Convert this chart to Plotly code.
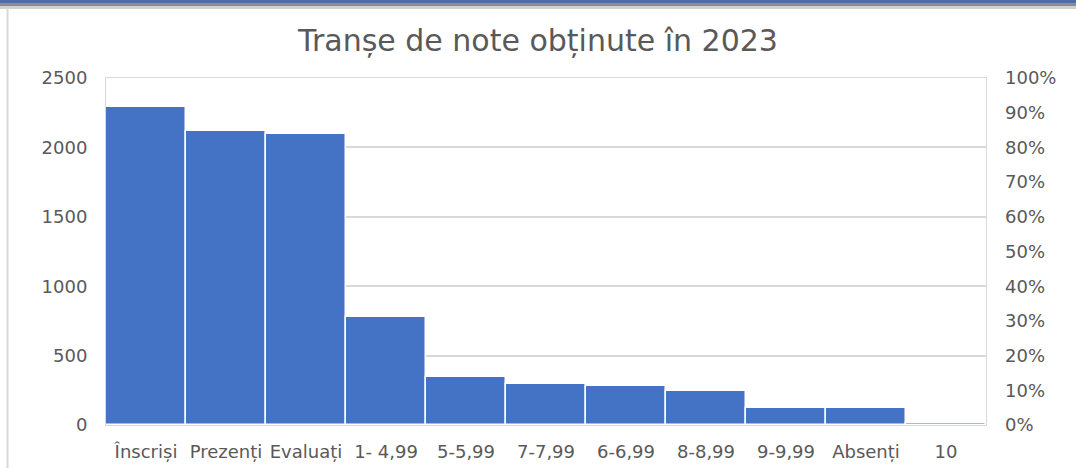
import plotly.graph_objects as go

# data
categorii = ['Înscriși', 'Prezenți', 'Evaluați', '1- 4,99', '5-5,99', '7-7,99',
             '6-6,99', '8-8,99', '9-9,99', 'Absenți', '10']
numar_elevi = [2290, 2116, 2100, 778, 346, 292, 278, 246, 125, 125, 12]

titlu = 'Tranșe de note obținute în 2023'
procente = [0, 0.1, 0.2, 0.3, 0.4, 0.5, 0.6, 0.7, 0.8, 0.9, 1.0]

W, H = 1076, 468
margin = dict(l=106, r=90, t=78, b=43)
plot_h = H - margin['t'] - margin['b']
plot_w = W - margin['l'] - margin['r']

font_name = 'DejaVu Sans'
gray_text = '#595959'
grid_col = '#d9d9d9'

fig = go.Figure()

fig.add_trace(go.Bar(x=categorii, y=numar_elevi, marker=dict(color='#4472c4', line=dict(color='white', width=1.5)),
                     showlegend=False))

# invisible trace to keep the percent axis alive
fig.add_trace(go.Scatter(x=[categorii[0]], y=[0], yaxis='y2', mode='markers', marker=dict(opacity=0),
                         showlegend=False, hoverinfo='skip'))


def px_y(p):
    # pixel row (from top) -> paper coordinate
    return (H - margin['b'] - p) / plot_h


def px_x(p):
    return (p - margin['l']) / plot_w


# screenshot frame: blue band at top and thin gray edge on the left
shapes = [
    dict(type='rect', xref='paper', yref='paper', x0=px_x(0), x1=px_x(W), y0=px_y(3), y1=px_y(0),
         fillcolor='#4a6fa5', line=dict(width=0), layer='above'),
    dict(type='rect', xref='paper', yref='paper', x0=px_x(0), x1=px_x(W), y0=px_y(6), y1=px_y(3),
         fillcolor='#8c8c8c', line=dict(width=0), layer='above'),
    dict(type='rect', xref='paper', yref='paper', x0=px_x(0), x1=px_x(W), y0=px_y(9), y1=px_y(6),
         fillcolor='#d0d0d0', line=dict(width=0), layer='above'),
    dict(type='line', xref='paper', yref='paper', x0=px_x(7.5), x1=px_x(7.5), y0=px_y(H), y1=px_y(8),
         line=dict(color='#d9d9d9', width=2)),
]

fig.update_layout(
    width=W, height=H,
    margin=margin,
    paper_bgcolor='white', plot_bgcolor='white',
    font=dict(family=font_name, color=gray_text, size=18),
    title=dict(text=titlu, x=0.5, xanchor='center', y=1 - 40 / H, yanchor='middle',
               font=dict(family=font_name, size=30, color=gray_text)),
    bargap=0,
    xaxis=dict(range=[-0.5, len(categorii) - 0.5], tickangle=0, showline=True, linecolor=grid_col, mirror=True,
               ticks='', automargin=False, tickfont=dict(size=18, color=gray_text), ticklabelstandoff=10),
    yaxis=dict(range=[0, 2500], dtick=500, showgrid=True, gridcolor=grid_col, gridwidth=1.5,
               showline=True, linecolor=grid_col, mirror=True, zeroline=False, ticks='', automargin=False,
               tickfont=dict(size=18, color=gray_text), ticklabelstandoff=14),
    yaxis2=dict(overlaying='y', side='right', range=[0, 1], tickvals=procente, tickformat='.0%',
                showgrid=False, zeroline=False, showline=False, ticks='', automargin=False,
                tickfont=dict(size=18, color=gray_text), ticklabelstandoff=18),
    shapes=shapes,
)

fig.write_html('out.html', config=dict(displayModeBar=False),
               post_script="document.body.style.margin='0px';")
